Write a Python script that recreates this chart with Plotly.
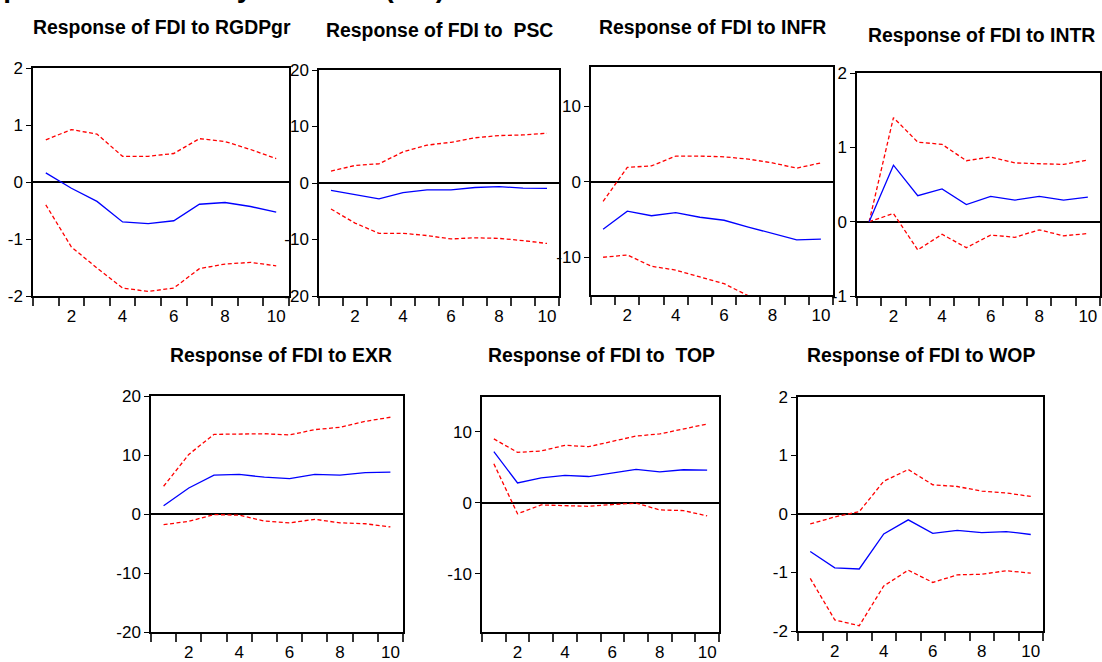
import plotly.graph_objects as go

W, H = 1102, 662

periods = [1, 2, 3, 4, 5, 6, 7, 8, 9, 10]

titles = ["Response of FDI to RGDPgr", "Response of FDI to  PSC", "Response of FDI to INFR",
          "Response of FDI to INTR", "Response of FDI to EXR", "Response of FDI to  TOP",
          "Response of FDI to WOP"]

rgdpgr_resp = [0.16, -0.11, -0.34, -0.70, -0.73, -0.68, -0.39, -0.36, -0.43, -0.53]
rgdpgr_up = [0.74, 0.92, 0.84, 0.45, 0.45, 0.50, 0.76, 0.71, 0.57, 0.41]
rgdpgr_lo = [-0.40, -1.14, -1.51, -1.86, -1.92, -1.86, -1.52, -1.44, -1.41, -1.47]

psc_resp = [-1.3, -2.0, -2.8, -1.7, -1.2, -1.2, -0.8, -0.65, -0.9, -0.95]
psc_up = [2.1, 3.1, 3.4, 5.5, 6.7, 7.2, 8.0, 8.4, 8.5, 8.8]
psc_lo = [-4.6, -7.1, -8.9, -8.9, -9.3, -9.9, -9.7, -9.8, -10.2, -10.7]

infr_resp = [-6.3, -3.9, -4.5, -4.1, -4.7, -5.1, -6.0, -6.9, -7.7, -7.6]
infr_up = [-2.6, 1.9, 2.1, 3.4, 3.4, 3.3, 3.0, 2.5, 1.8, 2.5]
infr_lo = [-10.0, -9.7, -11.2, -11.7, -12.6, -13.5, -15.1, -16.5, -17.5, -17.8]

intr_resp = [0.0, 0.76, 0.35, 0.44, 0.23, 0.34, 0.29, 0.34, 0.29, 0.33]
intr_up = [0.0, 1.40, 1.07, 1.04, 0.82, 0.87, 0.79, 0.78, 0.77, 0.83]
intr_lo = [0.0, 0.11, -0.38, -0.17, -0.35, -0.18, -0.21, -0.11, -0.19, -0.16]

exr_resp = [1.4, 4.4, 6.6, 6.7, 6.25, 6.0, 6.7, 6.6, 7.0, 7.1]
exr_up = [4.7, 10.1, 13.5, 13.6, 13.6, 13.4, 14.3, 14.7, 15.7, 16.4]
exr_lo = [-1.8, -1.25, -0.1, -0.2, -1.2, -1.5, -0.9, -1.5, -1.65, -2.2]

top_resp = [7.2, 2.8, 3.5, 3.85, 3.7, 4.2, 4.7, 4.35, 4.65, 4.6]
top_up = [9.0, 7.1, 7.3, 8.1, 7.9, 8.7, 9.4, 9.7, 10.4, 11.1]
top_lo = [5.5, -1.55, -0.3, -0.45, -0.5, -0.25, -0.05, -1.0, -1.1, -1.85]

wop_resp = [-0.64, -0.92, -0.94, -0.34, -0.10, -0.33, -0.28, -0.32, -0.30, -0.35]
wop_up = [-0.17, -0.05, 0.04, 0.56, 0.76, 0.50, 0.47, 0.39, 0.36, 0.30]
wop_lo = [-1.10, -1.81, -1.91, -1.23, -0.96, -1.17, -1.04, -1.03, -0.97, -1.01]

series = [
    (rgdpgr_resp, rgdpgr_up, rgdpgr_lo),
    (psc_resp, psc_up, psc_lo),
    (infr_resp, infr_up, infr_lo),
    (intr_resp, intr_up, intr_lo),
    (exr_resp, exr_up, exr_lo),
    (top_resp, top_up, top_lo),
    (wop_resp, wop_up, wop_lo),
]

y_ranges = [(-2, 2), (-20, 20), (-15, 15.2), (-1, 2), (-20, 20), (-18.2, 14.9), (-2, 2)]
y_ticks = [[-2, -1, 0, 1, 2], [-20, -10, 0, 10, 20], [-10, 0, 10], [-1, 0, 1, 2],
           [-20, -10, 0, 10, 20], [-10, 0, 10], [-2, -1, 0, 1, 2]]
x_labels = [2, 4, 6, 8, 10]
x_bounds = [0.5, 1.5, 2.5, 3.5, 4.5, 5.5, 6.5, 7.5, 8.5, 9.5, 10.5]

# plot boxes in pixels: (left, right, top, bottom)
boxes = [(33, 289, 68, 296), (319, 559, 70, 296), (591, 833, 67, 295), (857, 1100, 73, 296),
         (151, 403, 396, 632), (482, 719, 397, 632), (798, 1043, 397, 631)]
title_pos = [(162, 27), (440, 30), (712, 27), (981, 35), (281, 355), (601, 355), (921, 355)]

FAMILY = "Liberation Sans Narrow, Arial Narrow, Liberation Sans, Arial, sans-serif"
TICKFONT = dict(family=FAMILY, size=17, color="black")
TITLEFONT = dict(family=FAMILY, size=19.4, color="black")

fig = go.Figure()
layout = dict(width=W, height=H, margin=dict(l=0, r=0, t=0, b=0, autoexpand=False),
              paper_bgcolor="white", plot_bgcolor="white", showlegend=False)
annotations = []

for i, (resp, up, lo) in enumerate(series):
    n = i + 1
    xa = "x" if n == 1 else f"x{n}"
    ya = "y" if n == 1 else f"y{n}"
    for vals, color, dash in [(up, "#FF0000", "4px,2.5px"), (lo, "#FF0000", "4px,2.5px"),
                              (resp, "#0000FF", "solid")]:
        fig.add_trace(go.Scatter(x=periods, y=vals, mode="lines", xaxis=xa, yaxis=ya,
                                 line=dict(color=color, width=1.3, dash=dash),
                                 hoverinfo="skip", cliponaxis=True))
    l, r, t, b = boxes[i]
    xkey = "xaxis" if n == 1 else f"xaxis{n}"
    ykey = "yaxis" if n == 1 else f"yaxis{n}"
    layout[xkey] = dict(domain=[l / W, r / W], anchor=ya, range=[0.5, 10.5], automargin=False,
                        tickvals=x_labels, ticktext=[str(v) for v in x_labels],
                        ticks="outside", ticklen=4, tickcolor="rgba(0,0,0,0)",
                        tickfont=TICKFONT, showgrid=False, zeroline=False,
                        showline=True, mirror=True, linecolor="black", linewidth=1.5,
                        minor=dict(tickvals=x_bounds, ticks="outside", ticklen=8,
                                   tickcolor="#333333", tickwidth=1.5, showgrid=False),
                        fixedrange=True)
    layout[ykey] = dict(domain=[1 - b / H, 1 - t / H], anchor=xa, range=list(y_ranges[i]),
                        automargin=False,
                        tickvals=y_ticks[i], ticktext=[str(v) for v in y_ticks[i]],
                        ticks="outside", ticklen=5, tickwidth=1.2, tickcolor="black",
                        tickfont=TICKFONT, showgrid=False,
                        zeroline=True, zerolinecolor="black", zerolinewidth=1.5,
                        showline=True, mirror=True, linecolor="black", linewidth=1.5,
                        fixedrange=True)
    tx, ty = title_pos[i]
    annotations.append(dict(text="<b>" + titles[i] + "</b>", x=tx / W, y=1 - ty / H,
                            xref="paper", yref="paper", xanchor="center", yanchor="middle",
                            showarrow=False, font=TITLEFONT))

# figure heading, almost entirely cut off at the top edge of the image
annotations.append(dict(text="<b>Response to Cholesky One S.D. (d.f.) Innovations ± 2 S.E.</b>",
                        x=-50 / W, y=1 + 13 / H, xref="paper", yref="paper",
                        xanchor="left", yanchor="middle", showarrow=False,
                        font=dict(family=FAMILY, size=28, color="black")))

layout["annotations"] = annotations
fig.update_layout(**layout)
fig.write_html("out.html", config={"displayModeBar": False},
               post_script="document.body.style.margin='0px';document.body.style.overflow='hidden';")
